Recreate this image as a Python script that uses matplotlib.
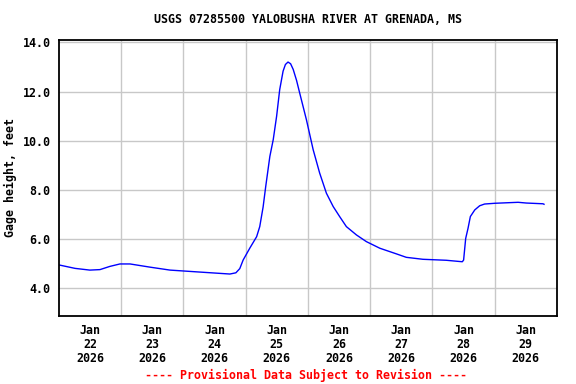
import numpy as np
import pandas as pd
import matplotlib
matplotlib.use("Agg")
import matplotlib.pyplot as plt

# Gage height readings (hours after Jan 22 2026 00:00, feet)
hours = [0, 6.2, 11.9, 15.8, 19.6, 23.5, 27.4, 35.1, 42.8, 54.3, 65.9, 68.2,
         69.7, 71.0, 73.6, 76.2, 77.4, 78.7, 79.7, 81.3, 82.6, 83.9, 85.1,
         86.4, 87.3, 88.3, 89.3, 90.3, 91.6, 92.8, 95.4, 98.0, 100.5, 103.1,
         105.7, 108.2, 110.8, 114.7, 118.5, 123.7, 130.1, 133.9, 140.3,
         149.3, 155.5, 156.0, 156.8, 157.7, 158.6, 160.3, 162.2, 164.1,
         168.0, 177.0, 180.2, 186.6, 187.0]
gage_ft = [4.94, 4.80, 4.73, 4.75, 4.88, 4.98, 4.98, 4.85, 4.73, 4.65, 4.57,
           4.62, 4.79, 5.14, 5.63, 6.09, 6.50, 7.30, 8.13, 9.36, 10.04,
           10.99, 12.08, 12.83, 13.10, 13.20, 13.13, 12.90, 12.45, 11.94,
           10.85, 9.63, 8.68, 7.86, 7.32, 6.91, 6.50, 6.16, 5.89, 5.62, 5.39,
           5.25, 5.17, 5.13, 5.07, 5.14, 6.02, 6.43, 6.91, 7.18, 7.35, 7.42,
           7.45, 7.49, 7.46, 7.43, 7.41]
y_ticks = [4.0, 6.0, 8.0, 10.0, 12.0, 14.0]
title = "USGS 07285500 YALOBUSHA RIVER AT GRENADA, MS"

start = pd.Timestamp("2026-01-22")
times = start + pd.to_timedelta(hours, unit="h")
days = pd.date_range("2026-01-22", "2026-01-30", freq="D")

plt.rcParams["font.family"] = "DejaVu Sans Mono"
plt.rcParams["font.weight"] = "bold"
fs = 8.4

fig = plt.figure(figsize=(5.76, 3.84), dpi=100)
ax = fig.add_axes([0.1024, 0.177, 0.8646, 0.719])

ax.plot(times, gage_ft, color="#0000ff", linewidth=1.0)

ax.set_xlim(days[0], days[-1])
ax.set_ylim(2.86, 14.1)

# gridlines at midnight, labels at noon
ax.set_xticks(days[1:-1], minor=False)
ax.set_xticklabels([])
ax.set_xticks(days[:-1] + pd.Timedelta(hours=12), minor=True)
ax.set_xticklabels([f"Jan\n{d.day}\n{d.year}" for d in days[:-1]], minor=True,
                   fontsize=fs, fontweight="bold", linespacing=1.1)
ax.set_yticks(y_ticks)
ax.set_yticklabels([f"{v:.1f}" for v in y_ticks], fontsize=fs, fontweight="bold")
ax.tick_params(axis="both", which="both", length=0)
ax.tick_params(axis="x", which="minor", pad=6)
ax.tick_params(axis="y", pad=6)

ax.grid(True, which="major", color="#c8c8c8", linewidth=1.0)
ax.set_axisbelow(True)
for s in ax.spines.values():
    s.set_linewidth(1.3)
    s.set_color("black")

ax.set_ylabel("Gage height, feet", fontsize=fs, fontweight="bold", labelpad=4)
ax.yaxis.set_label_coords(-0.085, 0.5)
fig.text(0.535, 0.95, title, ha="center", va="center", fontsize=fs, fontweight="bold")
fig.text(0.532, 0.023, "---- Provisional Data Subject to Revision ----",
         ha="center", va="center", fontsize=fs, fontweight="bold", color="red")

fig.savefig("out.png", dpi=100)
